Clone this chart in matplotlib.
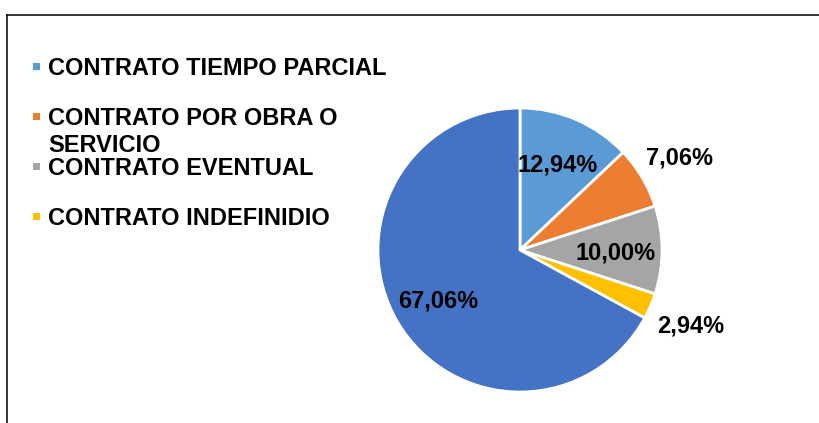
import matplotlib
matplotlib.use('Agg')
import matplotlib.pyplot as plt
from matplotlib.patches import Rectangle
from matplotlib.lines import Line2D
import numpy as np

plt.rcParams['font.family'] = ['Liberation Sans', 'DejaVu Sans']

# datos
categorias = ['CONTRATO TIEMPO PARCIAL', 'CONTRATO POR OBRA O\nSERVICIO',
              'CONTRATO EVENTUAL', 'CONTRATO INDEFINIDIO', 'OTROS']
porcentajes = [12.94, 7.06, 10.00, 2.94, 67.06]
colores = ['#5B9BD5', '#ED7D31', '#A5A5A5', '#FFC000', '#4472C4']
en_leyenda = 4  # la leyenda original solo muestra 4 entradas

W, H = 819, 423
fig = plt.figure(figsize=(W / 100, H / 100), dpi=100)

# marco (solo borde superior e izquierdo visibles)
fig.add_artist(Line2D([7 / W, 1], [1 - 15 / H, 1 - 15 / H], color='black', lw=1.1))
fig.add_artist(Line2D([7 / W, 7 / W], [0, 1 - 15 / H], color='black', lw=1.1))

# tarta
cx, cy, r = 520, 250, 142
ax = fig.add_axes([(cx - r) / W, (H - cy - r) / H, 2 * r / W, 2 * r / H])
wedges, _ = ax.pie(porcentajes, colors=colores, startangle=90, counterclock=False,
                   wedgeprops=dict(edgecolor='white', linewidth=2))
ax.set_xlim(-1, 1)
ax.set_ylim(-1, 1)
ax.set_aspect('equal')

for w, v in zip(wedges, porcentajes):
    ang = np.deg2rad((w.theta1 + w.theta2) / 2)
    d = 0.67 if v >= 10 else 1.31
    txt = f'{v:.2f}%'.replace('.', ',')
    ax.text(d * np.cos(ang), d * np.sin(ang) - 0.02, txt, ha='center', va='center',
            fontsize=17, fontweight='bold', color='black', clip_on=False)

# leyenda manual
y_ent = [67, 117, 167, 217]
for i in range(en_leyenda):
    yc = y_ent[i]
    fig.add_artist(Rectangle((33 / W, 1 - (yc + 3.5) / H), 7 / W, 7 / H,
                             facecolor=colores[i], edgecolor='none',
                             transform=fig.transFigure))
    for j, linea in enumerate(categorias[i].split('\n')):
        fig.text(48 / W, 1 - (yc + 8 + 27 * j) / H, linea, ha='left', va='baseline',
                 fontsize=17, fontweight='bold', color='black')

fig.savefig('out.png', dpi=100)
